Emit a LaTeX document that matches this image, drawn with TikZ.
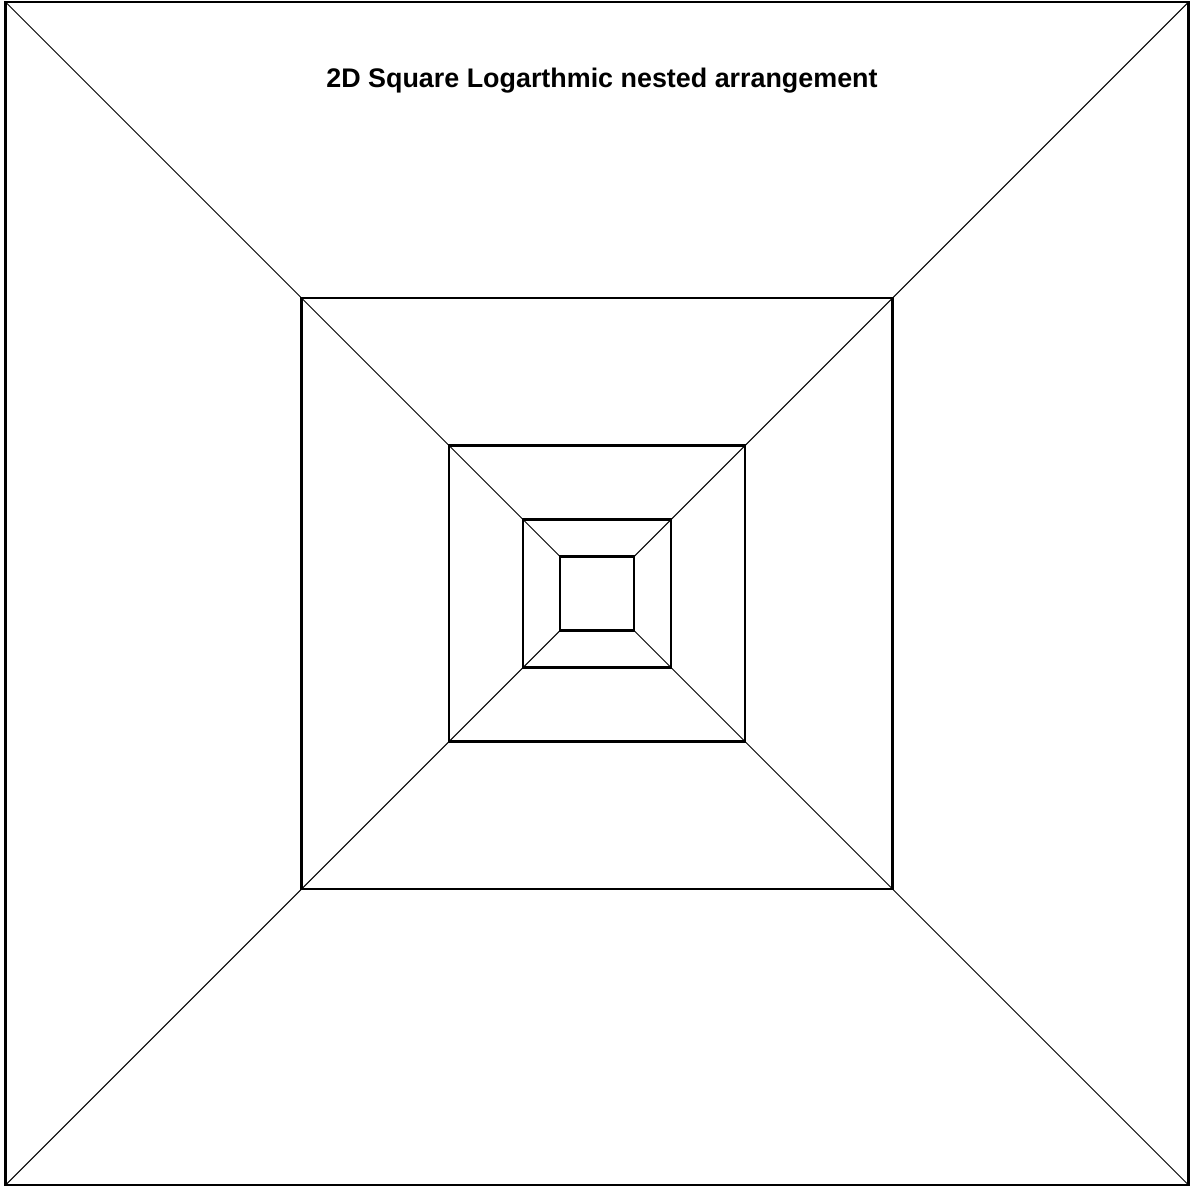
\documentclass[tikz,border=0pt]{standalone}
\usepackage{fontspec}
\setmainfont{Liberation Sans}
\usetikzlibrary{positioning}
\tikzset{
  nestbox/.style={draw, rectangle, inner sep=0pt, outer sep=0pt, line width=1.2pt},
  spoke/.style={line width=0.6pt},
  heading/.style={font=\bfseries\fontsize{15.3}{17}\selectfont}
}

\begin{document}
\begin{tikzpicture}[x=0.02cm, y=-0.02cm]
  \useasboundingbox (0,0) rectangle (1192,1187);
  % nested squares, each half the size of the one around it
  \foreach \k/\s in {1/1183, 2/591, 3/296, 4/148, 5/74}
    \node[nestbox, minimum size=\s*0.02cm] (sq\k) at (597,593.5) {};
  % corner spokes
  \foreach \c in {north west, north east, south west, south east}
    \draw[spoke] (sq1.\c) -- (sq5.\c);
  \node[heading] (title) at (602,81) {2D Square Logarthmic nested arrangement};
\end{tikzpicture}
\end{document}
